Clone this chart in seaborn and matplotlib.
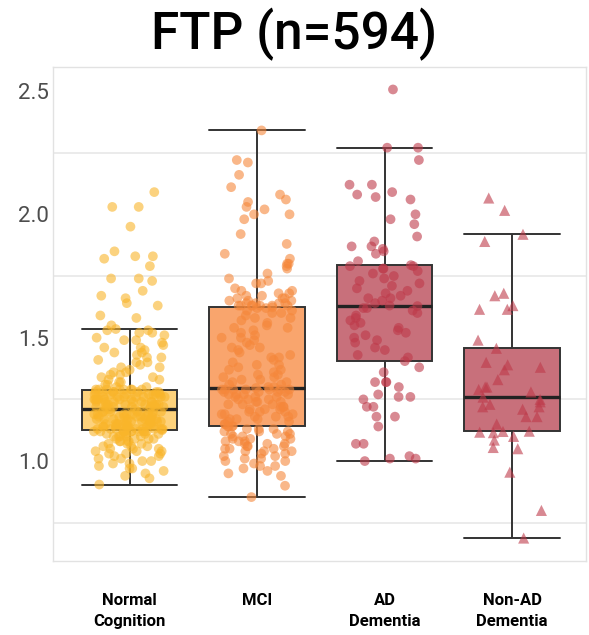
import numpy as np
import pandas as pd
import seaborn as sns
import matplotlib.pyplot as plt
from matplotlib.ticker import FixedLocator

# ---------------- data ----------------
categories = ["Normal\nCognition", "MCI", "AD\nDementia", "Non-AD\nDementia"]

normal_cognition = [
    0.905,
    0.93, 0.94, 0.95, 0.96, 0.97, 0.97, 0.98, 0.99, 0.99, 1.00,
    1.00, 1.01, 1.01, 1.02, 1.02, 1.03, 1.03, 1.03, 1.04, 1.04,
    1.04, 1.05, 1.05, 1.05, 1.06, 1.06, 1.06, 1.07, 1.07, 1.07,
    1.08, 1.08, 1.08, 1.08, 1.09, 1.09, 1.09, 1.09, 1.10, 1.10,
    1.10, 1.10, 1.10, 1.11, 1.11, 1.11, 1.11, 1.11, 1.12, 1.12,
    1.12, 1.12, 1.12, 1.12, 1.12, 1.12, 1.12, 1.12, 1.12,
    1.125,
    1.13, 1.13, 1.13, 1.13, 1.13, 1.13, 1.13, 1.13,
    1.14, 1.14, 1.14, 1.14, 1.14, 1.14, 1.14, 1.14,
    1.15, 1.15, 1.15, 1.15, 1.15, 1.15, 1.15, 1.15,
    1.16, 1.16, 1.16, 1.16, 1.16, 1.16, 1.16,
    1.17, 1.17, 1.17, 1.17, 1.17, 1.17, 1.17,
    1.18, 1.18, 1.18, 1.18, 1.18, 1.18, 1.18,
    1.19, 1.19, 1.19, 1.19, 1.19, 1.19, 1.19,
    1.20, 1.20, 1.20, 1.20, 1.20, 1.20, 1.20,
    1.21,
    1.21, 1.21, 1.21,
    1.22, 1.22, 1.22, 1.22, 1.22, 1.22, 1.22,
    1.23, 1.23, 1.23, 1.23, 1.23, 1.23, 1.23,
    1.24, 1.24, 1.24, 1.24, 1.24, 1.24, 1.24,
    1.25, 1.25, 1.25, 1.25, 1.25, 1.25, 1.25,
    1.26, 1.26, 1.26, 1.26, 1.26, 1.26, 1.26,
    1.27, 1.27, 1.27, 1.27, 1.27, 1.27, 1.27,
    1.28, 1.28, 1.28, 1.28, 1.28, 1.28, 1.28,
    1.29, 1.29, 1.29, 1.29, 1.29, 1.29, 1.29,
    1.29,
    1.30, 1.30, 1.31, 1.31, 1.32, 1.32, 1.33, 1.33, 1.34, 1.34,
    1.35, 1.35, 1.36, 1.36, 1.37, 1.38, 1.38, 1.39, 1.40, 1.40,
    1.41, 1.42, 1.42, 1.43, 1.44, 1.44, 1.45, 1.46, 1.46, 1.47,
    1.48, 1.49, 1.49, 1.50, 1.51, 1.52, 1.52, 1.53, 1.53, 1.535,
    1.55, 1.58, 1.59, 1.63, 1.64, 1.66, 1.67, 1.69, 1.73, 1.74,
    1.74, 1.79, 1.82, 1.83, 1.83, 1.85, 1.95, 2.03, 2.03, 2.09,
]

mci = [
    0.854,
    0.90, 0.94, 0.95, 0.96, 0.97, 0.98, 0.98, 0.99, 1.00, 1.00,
    1.01, 1.01, 1.02, 1.02, 1.03, 1.03, 1.04, 1.04, 1.04, 1.05,
    1.05, 1.05, 1.06, 1.06, 1.06, 1.07, 1.07, 1.07, 1.08, 1.08,
    1.08, 1.09, 1.09, 1.09, 1.10, 1.10, 1.10, 1.11, 1.11, 1.11,
    1.12, 1.12, 1.12, 1.13, 1.13, 1.13, 1.14, 1.14, 1.14,
    1.142,
    1.15, 1.15, 1.16, 1.16, 1.17, 1.17, 1.17, 1.18, 1.18, 1.18,
    1.19, 1.19, 1.19, 1.20, 1.20, 1.20, 1.21, 1.21, 1.21, 1.22,
    1.22, 1.22, 1.23, 1.23, 1.23, 1.24, 1.24, 1.24, 1.25, 1.25,
    1.25, 1.26, 1.26, 1.26, 1.27, 1.27, 1.27, 1.27, 1.28, 1.28,
    1.28, 1.28, 1.29, 1.29, 1.29, 1.29, 1.29, 1.29, 1.29,
    1.296,
    1.30, 1.30, 1.31, 1.31, 1.32, 1.32, 1.33, 1.33, 1.34, 1.34,
    1.35, 1.35, 1.36, 1.37, 1.37, 1.38, 1.39, 1.39, 1.40, 1.41,
    1.42, 1.42, 1.43, 1.44, 1.45, 1.46, 1.46, 1.47, 1.48, 1.49,
    1.50, 1.50, 1.51, 1.52, 1.53, 1.54, 1.54, 1.55, 1.56, 1.57,
    1.58, 1.58, 1.59, 1.60, 1.60, 1.61, 1.61, 1.62, 1.62,
    1.623,
    1.63, 1.63, 1.63, 1.63, 1.63, 1.63, 1.63, 1.64, 1.64, 1.64,
    1.64, 1.65, 1.65, 1.65, 1.66, 1.66, 1.66, 1.67, 1.67, 1.68,
    1.68, 1.69, 1.69, 1.70, 1.72, 1.72, 1.73, 1.74, 1.76, 1.78,
    1.79, 1.80, 1.80, 1.82, 1.84, 1.88, 1.92, 1.98, 2.00, 2.00,
    2.02, 2.03, 2.05, 2.06, 2.08, 2.11, 2.16, 2.21, 2.22,
    2.34,
]

ad_dementia = [
    1.00,
    1.01, 1.01, 1.02, 1.07, 1.07, 1.14, 1.18, 1.18, 1.22, 1.22,
    1.25, 1.26, 1.26, 1.27, 1.30, 1.32, 1.32, 1.32, 1.36, 1.38,
    1.405,
    1.42, 1.43, 1.45, 1.46, 1.48, 1.49, 1.50, 1.51, 1.52, 1.53,
    1.54, 1.55, 1.56, 1.57, 1.58, 1.59, 1.60, 1.61, 1.62, 1.62,
    1.628,
    1.63, 1.64, 1.65, 1.66, 1.66, 1.67, 1.68, 1.69, 1.70, 1.71,
    1.72, 1.73, 1.74, 1.75, 1.76, 1.77, 1.78, 1.78, 1.79, 1.79,
    1.794,
    1.81, 1.84, 1.85, 1.86, 1.87, 1.87, 1.89, 1.91, 1.96, 1.98,
    2.00, 2.06, 2.07, 2.08, 2.09, 2.12, 2.12, 2.22, 2.27, 2.27,
    2.506,
]

non_ad_dementia = [
    0.688,
    0.80, 0.955, 1.05, 1.055, 1.085, 1.10, 1.115, 1.117, 1.12,
    1.121,
    1.15, 1.18, 1.18, 1.21, 1.22, 1.22, 1.23, 1.24, 1.25,
    1.259,
    1.28, 1.29, 1.30, 1.30, 1.33, 1.37, 1.38, 1.39, 1.40,
    1.457,
    1.49, 1.615, 1.615, 1.63, 1.67, 1.68, 1.89, 1.919, 2.016, 2.066,
]

y_ticks = [1.0, 1.5, 2.0, 2.5]
grid_lines = [0.75, 1.25, 1.75, 2.25]
title_text = "FTP (n=594)"

point_colors = ["#F9B52A", "#F5873A", "#BE3A4A", "#BE3A4A"]
box_colors = ["#FDD27C", "#F9A56D", "#C8707B", "#C8707B"]

# ---------------- build table ----------------
series = [normal_cognition, mci, ad_dementia, non_ad_dementia]
df = pd.concat(
    [pd.DataFrame({"group": c, "ftp": v}) for c, v in zip(categories, series)],
    ignore_index=True,
)

sns.set_theme(style="white")
plt.rcParams["font.family"] = ["Roboto", "DejaVu Sans"]
np.random.seed(7)

fig = plt.figure(figsize=(5.89, 6.35), dpi=100)
ax = fig.add_axes([53 / 589, 1 - 561 / 635, (586 - 53) / 589, (561 - 67) / 635])

sns.boxplot(
    data=df, x="group", y="ftp", order=categories,
    hue="group", hue_order=categories, palette=box_colors, legend=False,
    width=0.75, whis=1.5, showfliers=False,
    linecolor="#333333", linewidth=1.4,
    medianprops=dict(linewidth=2.4, color="#222222"),
    capwidths=0.75, saturation=1, ax=ax, zorder=2,
)

mask = df["group"] == categories[3]
sns.stripplot(
    data=df[~mask], x="group", y="ftp", order=categories,
    hue="group", hue_order=categories, palette=point_colors, legend=False,
    jitter=0.28, size=7, alpha=0.6, linewidth=0, ax=ax, zorder=3,
)
sns.stripplot(
    data=df[mask], x="group", y="ftp", order=categories,
    hue="group", hue_order=categories, palette=point_colors, legend=False,
    jitter=0.27, size=8, alpha=0.6, linewidth=0, marker="^", ax=ax, zorder=3,
)

ax.set_xlim(-0.60, 3.58)
ax.set_ylim(0.595, 2.597)
ax.set_xlabel("")
ax.set_ylabel("")

ax.yaxis.set_major_locator(FixedLocator(y_ticks))
ax.set_yticklabels([f"{t:.1f}" for t in y_ticks])
ax.yaxis.set_minor_locator(FixedLocator(grid_lines))
ax.grid(False, which="major")
ax.grid(True, which="minor", axis="y", color="#E8E8E8", linewidth=1.2, zorder=0)
ax.set_axisbelow(True)

ax.tick_params(axis="y", which="both", length=0, pad=3, labelsize=16, labelcolor="#4D4D4D")
ax.tick_params(axis="x", which="both", length=0, pad=23, labelsize=12, labelcolor="black")
for lab in ax.get_xticklabels():
    lab.set_fontweight("bold")
    lab.set_linespacing(1.5)

for s in ax.spines.values():
    s.set_visible(True)
    s.set_color("#E2E2E2")
    s.set_linewidth(1.0)

fig.text(0.5, 1 - 49 / 635, title_text, ha="center", va="baseline",
         fontsize=37, fontweight="medium", color="black")

fig.savefig("out.png", dpi=100)
